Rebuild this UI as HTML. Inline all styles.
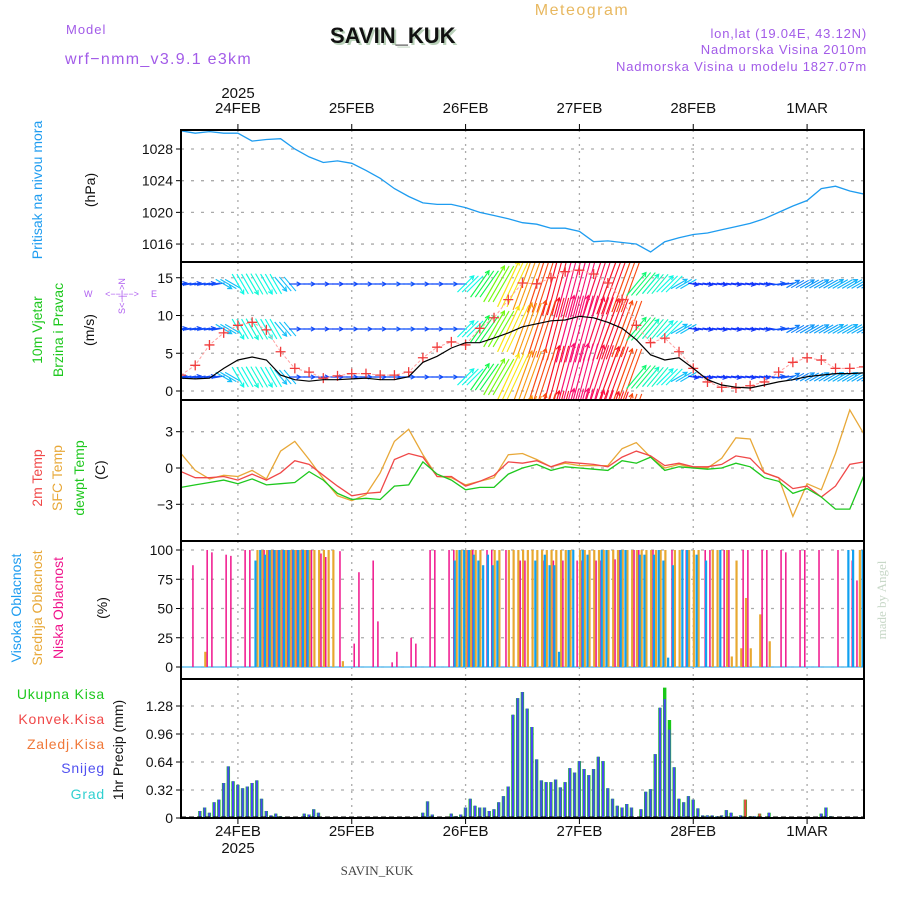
<!DOCTYPE html>
<html><head><meta charset="utf-8"><style>
html,body{margin:0;padding:0;background:#fff;}
svg{display:block;font-family:"Liberation Sans",sans-serif;}
</style></head><body>
<svg id="chart" width="900" height="900" viewBox="0 0 900 900" xmlns="http://www.w3.org/2000/svg">
<text x="582" y="15" fill="#e8b860" font-size="16" letter-spacing="1.5" text-anchor="middle">Meteogram</text>
<text x="66" y="34" fill="#a25be8" font-size="13" letter-spacing="1">Model</text>
<text x="65" y="64" fill="#a25be8" font-size="16" letter-spacing="1.3">wrf−nmm_v3.9.1 e3km</text>
<text x="332" y="45" fill="#b8d0b8" font-size="22" font-weight="bold" font-family="Liberation Sans, sans-serif">SAVIN_KUK</text>
<text x="330" y="43" fill="#111" font-size="22" font-weight="bold" font-family="Liberation Sans, sans-serif">SAVIN_KUK</text>
<text x="867" y="38" fill="#a25be8" font-size="13" letter-spacing="0.8" text-anchor="end">lon,lat (19.04E, 43.12N)</text>
<text x="867" y="54" fill="#a25be8" font-size="13" letter-spacing="0.8" text-anchor="end">Nadmorska Visina 2010m</text>
<text x="867" y="71" fill="#a25be8" font-size="13" letter-spacing="0.8" text-anchor="end">Nadmorska Visina u modelu 1827.07m</text>
<text x="238" y="98" font-size="15" text-anchor="middle" fill="#111">2025</text>
<text x="238" y="853" font-size="15" text-anchor="middle" fill="#111">2025</text>
<text x="377" y="875" font-size="13" text-anchor="middle" fill="#444" font-family="Liberation Serif, serif">SAVIN_KUK</text>
<text x="886" y="600" font-size="13" fill="#c8d8c8" text-anchor="middle" font-family="Liberation Serif, serif" transform="rotate(-90 886 600)">made by Angel</text>
<g font-size="14">
<text x="42" y="190" fill="#1e9cf0" text-anchor="middle" transform="rotate(-90 42 190)">Pritisak na nivou mora</text>
<text x="95" y="190" fill="#111" text-anchor="middle" transform="rotate(-90 95 190)">(hPa)</text>
<text x="42" y="330" fill="#1ec81e" text-anchor="middle" transform="rotate(-90 42 330)">10m Vjetar</text>
<text x="63" y="330" fill="#1ec81e" text-anchor="middle" transform="rotate(-90 63 330)">Brzina i Pravac</text>
<text x="94" y="330" fill="#111" text-anchor="middle" transform="rotate(-90 94 330)">(m/s)</text>
<text x="42" y="478" fill="#f04848" text-anchor="middle" transform="rotate(-90 42 478)">2m Temp</text>
<text x="62" y="478" fill="#e8a838" text-anchor="middle" transform="rotate(-90 62 478)">SFC Temp</text>
<text x="84" y="478" fill="#1ec81e" text-anchor="middle" transform="rotate(-90 84 478)">dewpt Temp</text>
<text x="105" y="470" fill="#111" text-anchor="middle" transform="rotate(-90 105 470)">(C)</text>
<text x="21" y="608" fill="#1e9cf0" text-anchor="middle" transform="rotate(-90 21 608)">Visoka Oblacnost</text>
<text x="42" y="608" fill="#e8a838" text-anchor="middle" transform="rotate(-90 42 608)">Srednja Oblacnost</text>
<text x="63" y="608" fill="#f0148c" text-anchor="middle" transform="rotate(-90 63 608)">Niska Oblacnost</text>
<text x="107" y="608" fill="#111" text-anchor="middle" transform="rotate(-90 107 608)">(%)</text>
<text x="123" y="750" fill="#111" text-anchor="middle" transform="rotate(-90 123 750)">1hr Precip (mm)</text>
</g>
<g font-size="14" text-anchor="end" letter-spacing="0.8">
<text x="105" y="699" fill="#1ec81e">Ukupna Kisa</text>
<text x="105" y="724" fill="#f04848">Konvek.Kisa</text>
<text x="105" y="749" fill="#f07838">Zaledj.Kisa</text>
<text x="105" y="773" fill="#5050f0">Snijeg</text>
<text x="105" y="799" fill="#30d0d0">Grad</text>
</g>
<g fill="#b060f0" font-size="9">
<text x="84" y="297">W</text>
<text x="151" y="297">E</text>
<text x="122" y="297" text-anchor="middle">&lt;−−|−−&gt;</text>
<text x="125" y="296" text-anchor="middle" transform="rotate(-90 125 296)">S&lt;−|−&gt;N</text>
</g>
<g id="plots"></g>
</svg>
<script>
// ---------- data ----------
const dayLabels = ["24FEB","25FEB","26FEB","27FEB","28FEB","1MAR"];
const dayHours = [12,36,60,84,108,132];
const pressTicks = [1016,1020,1024,1028];
const windTicks = [0,5,10,15];
const tempTicks = [-3,0,3];
const cloudTicks = [0,25,50,75,100];
const precipTicks = [0,0.32,0.64,0.96,1.28];
const precipTickLabels = ["0","0.32","0.64","0.96","1.28"];
// 3-hourly series (hour 0 = 23FEB 12Z)
const pressure = [1030.3,1030.0,1030.2,1030.0,1030.0,1029.0,1029.2,1029.3,1028.0,1027.0,1026.3,1026.5,1026.2,1025.3,1024.3,1023.0,1022.0,1021.2,1021.0,1021.0,1020.6,1020.0,1019.6,1019.2,1018.7,1018.5,1018.0,1018.0,1017.6,1016.3,1016.4,1016.2,1016.0,1015.0,1016.3,1016.8,1017.2,1017.4,1017.8,1018.2,1018.6,1019.2,1020.0,1020.8,1021.5,1023.0,1023.3,1022.7,1022.3];
const windSpeed = [1.7,1.6,1.7,3.0,4.1,4.5,4.1,2.1,1.5,1.3,1.5,1.5,1.6,1.7,1.5,1.5,1.9,3.8,4.6,5.7,6.4,6.4,7.0,7.7,8.5,8.9,9.3,9.4,9.9,9.7,9.1,8.3,6.8,4.8,4.1,4.4,3.0,1.5,0.8,0.5,0.4,0.8,1.2,1.5,1.9,2.1,2.3,2.3,2.4];
const windGust = [2.1,3.4,6.1,7.7,8.7,9.1,8.1,5.2,3.0,2.5,1.7,2.0,2.3,2.3,2.1,2.1,2.5,4.4,5.8,6.5,6.1,8.3,9.7,12.1,14.3,14.2,15.0,15.8,16.0,15.5,14.3,12.1,8.7,6.4,7.0,5.2,3.0,1.2,0.5,0.4,0.7,1.2,2.5,3.8,4.4,4.1,3.0,3.0,3.2];
const arrowDir = [80,80,80,120,150,150,150,140,90,90,90,90,90,90,90,90,90,90,90,90,45,35,30,25,20,18,15,15,15,18,20,20,40,40,45,60,100,100,100,100,100,100,80,60,60,60,60,60,60];
const arrowSpd = [2.5,2.5,2.5,4,5,5.2,5,4,2.5,2.5,2.4,2.4,2.5,2.5,2.5,2.6,2.6,2.5,2.5,2.6,5,7,9,11,12,13,14,15,15,14.5,14,13,6.5,5.5,5,4,2.2,2.2,2.2,2.2,2.2,2.3,2.6,3.2,3.5,3.6,3.8,3.8,3.6];
const temp2m = [-0.3,-0.8,-0.8,-0.7,-1.0,-0.5,-1.0,-0.4,0.6,0.3,-0.6,-1.5,-2.3,-2.1,-2.0,0.7,1.2,0.9,-0.7,-0.7,-1.5,-1.1,-0.6,0.5,0.4,0.6,0.1,0.5,0.4,0.3,0.1,0.9,1.4,1.0,0.2,0.4,0.1,0.1,0.3,1.0,0.8,-0.4,-0.8,-1.7,-1.5,-2.4,-1.5,0.3,0.5];
const tempSfc = [1.2,-0.2,-0.9,-0.6,-0.7,-0.2,-0.9,1.4,2.2,0.7,-0.9,-2.3,-2.7,-2.2,-0.4,2.2,3.2,1.1,-0.7,-0.8,-1.4,-1.1,-0.8,1.1,1.2,0.7,0.1,0.4,0.2,0.2,0.2,1.6,2.1,0.9,0.0,0.3,0.0,0.0,0.8,2.5,2.4,-0.4,-0.8,-4.0,-1.3,-1.8,1.2,4.8,2.8];
const tempDew = [-1.6,-1.4,-1.2,-1.0,-1.3,-0.9,-1.4,-1.3,-1.2,-0.3,-1.0,-2.1,-2.6,-2.5,-2.6,-1.5,-1.4,0.5,-0.5,-1.0,-1.8,-1.6,-1.6,-0.5,0.0,0.3,-0.2,0.1,0.0,-0.1,-0.2,0.6,0.4,0.9,-0.2,0.1,0.0,-0.1,0.0,0.4,0.1,-0.8,-1.1,-2.1,-1.7,-2.4,-3.4,-3.4,-0.6];
// hourly cloud cover (%)
const cloudHigh = [0,0,0,0,0,0,0,0,0,0, 0,0,0,0,0,0,91,100,96,100, 100,100,100,100,100,100,100,100,0,0, 0,0,0,0,0,0,0,0,0,0, 0,0,0,0,0,0,0,0,0,0, 0,0,0,0,0,0,0,0,91,100, 100,100,96,91,87,96,87,91,0,0, 0,0,0,0,0,91,0,96,87,87, 13,0,100,100,0,100,96,0,0,100, 100,0,0,100,100,0,0,96,96,0, 96,100,91,8,87,0,100,100,0,96, 0,91,0,0,100,0,0,0,0,0, 0,0,0,0,0,0,0,0,0,0, 0,0,0,0,0,0,0,0,0,0, 0,100,100,0,100];
const cloudMid = [0,0,0,0,0,13,0,0,0,0, 0,0,0,0,0,0,100,100,100,100, 100,100,100,100,100,100,100,100,100,100, 100,100,100,0,5,0,0,0,0,0, 0,0,0,0,0,0,0,0,0,0, 0,0,0,0,0,0,0,0,100,100, 100,100,100,100,0,0,100,100,0,100, 100,100,100,100,100,100,100,100,100,100, 100,100,100,0,100,100,100,100,100,100, 100,100,100,100,100,100,100,100,100,100, 100,100,100,0,100,100,0,100,100,100, 0,0,100,100,0,100,9,91,16,59, 16,0,45,0,22,0,0,0,0,0, 0,0,0,0,0,0,0,0,0,0, 0,0,0,100,0];
const cloudLow = [0,0,87,0,0,100,98,0,0,96, 95,0,0,100,100,0,0,100,100,100, 100,100,100,100,100,100,100,100,0,97, 94,0,0,99,0,0,20,81,0,0, 91,39,0,0,4,13,0,0,25,20, 0,0,100,100,0,0,100,100,0,0, 100,100,0,0,100,100,0,0,100,0, 0,91,91,0,0,0,91,0,91,0, 91,0,0,91,91,0,0,91,91,0, 0,92,100,0,0,100,100,0,0,100, 0,0,0,100,0,0,100,0,0,0, 100,100,0,0,100,100,0,0,100,100, 0,0,100,100,0,0,100,98,0,0, 100,100,0,0,100,0,0,0,100,0, 0,91,74,0,0];
// hourly precipitation (mm)
const precipTotal = [0,0,0,.01,.08,.12,.06,.18,.21,.40, .59,.42,.38,.34,.36,.40,.43,.22,.08,.03, .05,.02,0,0,0,0,.05,.04,.10,.06, .01,0,0,0,0,0,0,0,0,.01, 0,0,0,0,0,0,0,0,0,0, 0,.06,.19,.04,0,0,0,.05,.02,.04, .12,.22,.14,.12,.12,.08,.10,.18,.25,.36, 1.18,1.37,1.44,1.25,1.04,.67,.43,.41,.41,.44, .35,.41,.57,.52,.65,.56,.49,.56,.70,.65, .34,.22,.14,.12,.16,.12,.01,.10,.30,.33, .73,1.26,1.49,1.12,.58,.22,.18,.25,.21,.11, .03,.03,.03,.02,.03,.09,.06,.01,.03,.21, .02,.02,.05,.01,.06,0,0,0,0,0, 0,0,0,0,0,.05,.12,.02,0,0, 0,0,0,0,0];
const precipSnow = [0,0,0,.01,.08,.12,.06,.18,.21,.40, .59,.42,.38,.34,.36,.40,.43,.22,.08,.03, .05,.02,0,0,0,0,.05,.04,.10,.06, .01,0,0,0,0,0,0,0,0,.01, 0,0,0,0,0,0,0,0,0,0, 0,.06,.19,.04,0,0,0,.05,.02,.04, .12,.22,.14,.12,.12,.08,.10,.18,.25,.36, 1.18,1.37,1.44,1.25,1.04,.67,.43,.41,.41,.44, .35,.41,.57,.52,.65,.56,.49,.56,.70,.65, .34,.22,.14,.12,.16,.12,.01,.10,.30,.33, .73,1.26,1.36,1.01,.58,.22,.18,.25,.21,.11, .03,.03,.03,.02,.03,.09,.06,.01,.03,0, .02,.02,0,.01,.06,0,0,0,0,0, 0,0,0,0,0,.05,.12,.02,0,0, 0,0,0,0,0];
const convHours = [119,122];
const convValues = [0.21,0.05];

// ---------- axes ----------
const X0 = 181, X1 = 864, PXH = (X1 - X0) / 144;
const xH = h => X0 + h * PXH;
const yP = p => 149 + (1028 - p) * 7.92;
const yW = s => 391 - s * 7.55;
const yT = t => 468 - t * 12.1;
const yC = c => 667 - c * 1.17;
const yR = r => 818 - r * 87.5;
const panels = [
  {name:"pressure-panel", top:130, bot:262},
  {name:"wind-panel", top:262, bot:400},
  {name:"temperature-panel", top:400, bot:541},
  {name:"cloud-panel", top:541, bot:679},
  {name:"precip-panel", top:679, bot:818}
];
const NS = "http://www.w3.org/2000/svg";
const root = document.getElementById("plots");
function mk(tag, attrs, parent){
  const e = document.createElementNS(NS, tag);
  for (const k in attrs) e.setAttribute(k, attrs[k]);
  (parent || root).appendChild(e);
  return e;
}
function group(name){
  const g = mk("g", {});
  
  
  return g;
}
const clip = mk("defs", {});
panels.forEach((p, i) => {
  const cp = mk("clipPath", {id: "clip" + i}, clip);
  mk("rect", {x: X0, y: p.top, width: X1 - X0, height: p.bot - p.top}, cp);
});

// grid
const grid = group("grid-lines");
panels.forEach(p => {
  dayHours.forEach(h => {
    const l = mk("line", {x1: xH(h), x2: xH(h), y1: p.top, y2: p.bot, stroke: "#aaa", "stroke-width": 1.3, "stroke-dasharray": "2,5"}, grid);
    
    
  });
});
function hGrid(ticks, yf, labels, name){
  const g = group(name);
  ticks.forEach((t, i) => {
    const y = yf(t);
    const l = mk("line", {x1: X0, x2: X1, y1: y, y2: y, stroke: "#aaa", "stroke-width": 1.3, "stroke-dasharray": "3,7"}, g);
    
    
    const tk = mk("line", {x1: X0 - 5, x2: X0, y1: y, y2: y, stroke: "#000", "stroke-width": 1}, g);
    
    
    const tx = mk("text", {x: X0 - 8, y: y + 5, "text-anchor": "end", "font-size": 14, fill: "#111"}, g);
    
    
    tx.textContent = labels ? labels[i] : (t < 0 ? "−" + Math.abs(t) : String(t));
  });
}
hGrid(pressTicks, yP, null, "pressure-y-axis");
hGrid(windTicks, yW, null, "wind-y-axis");
hGrid(tempTicks, yT, null, "temperature-y-axis");
hGrid(cloudTicks, yC, null, "cloud-y-axis");
hGrid(precipTicks, yR, precipTickLabels, "precip-y-axis");

// x labels
const xa = group("x-axis-labels");
dayHours.forEach((h, i) => {
  const t1 = mk("text", {x: xH(h), y: 113, "text-anchor": "middle", "font-size": 15, fill: "#111"}, xa);
  
  
  t1.textContent = dayLabels[i];
  const t2 = mk("text", {x: xH(h), y: 836, "text-anchor": "middle", "font-size": 15, fill: "#111"}, xa);
  
  
  t2.textContent = dayLabels[i];
  const k1 = mk("line", {x1: xH(h), x2: xH(h), y1: 124, y2: 130, stroke: "#000"}, xa);
  
  
  const k2 = mk("line", {x1: xH(h), x2: xH(h), y1: 818, y2: 824, stroke: "#000"}, xa);
  
  
});

function pts(arr, yf, step){ return arr.map((v, i) => xH(i * step).toFixed(1) + "," + yf(v).toFixed(1)).join(" "); }

// pressure
const pg = group("pressure-series");
pg.setAttribute("clip-path", "url(#clip0)");
const pl = mk("polyline", {points: pts(pressure, yP, 3), fill: "none", stroke: "#1e9cf0", "stroke-width": 1.3}, pg);



// wind arrows
const wg = group("wind-arrows");
wg.setAttribute("clip-path", "url(#clip1)");
const rowCenters = [284, 329, 377, 422];
rowCenters.forEach(rc => {
  arrowDir.forEach((d, i) => {
    const s = arrowSpd[i], L = s * 4.6, a = d * Math.PI / 180;
    const dx = Math.sin(a) * L, dy = -Math.cos(a) * L;
    const x = xH(i * 3), x1 = x - dx / 2, y1 = rc - dy / 2, x2 = x + dx / 2, y2 = rc + dy / 2;
    const hue = ((275 - 20 * s) % 360 + 360) % 360;
    const col = "hsl(" + hue + ",95%,52%)";
    const ar = mk("g", {stroke: col, "stroke-width": 1.2, fill: "none"}, wg);
    
    
    mk("line", {x1: x1, y1: y1, x2: x2, y2: y2}, ar);
    const ha = 4.5, ang = Math.atan2(y2 - y1, x2 - x1);
    mk("polyline", {points: (x2 - ha * Math.cos(ang - 0.5)) + "," + (y2 - ha * Math.sin(ang - 0.5)) + " " + x2 + "," + y2 + " " + (x2 - ha * Math.cos(ang + 0.5)) + "," + (y2 - ha * Math.sin(ang + 0.5))}, ar);
    const ar2 = mk("line", {x1: x1 + 4.7, y1: y1, x2: x2 + 4.7, y2: y2, stroke: col, "stroke-width": 1.1}, wg);
    
    
    const ar3 = mk("line", {x1: x1 + 9.4, y1: y1, x2: x2 + 9.4, y2: y2, stroke: col, "stroke-width": 1.1}, wg);
    
    
  });
});
const gl = mk("polyline", {points: pts(windGust, yW, 3), fill: "none", stroke: "#ffa0a0", "stroke-width": 1, "stroke-dasharray": "3,2"}, wg);


windGust.forEach((v, i) => {
  const x = xH(i * 3), y = yW(v);
  const m = mk("path", {d: "M" + (x - 5) + " " + y + "h10M" + x + " " + (y - 5) + "v10", stroke: "#f03c3c", "stroke-width": 1.3}, wg);
  
  
});
const sl = mk("polyline", {points: pts(windSpeed, yW, 3), fill: "none", stroke: "#000", "stroke-width": 1.2}, wg);



// temperature
const tg = group("temperature-series");
tg.setAttribute("clip-path", "url(#clip2)");
[[tempSfc, "#e8a838", "sfc-temp-line"], [temp2m, "#f04848", "temp-2m-line"], [tempDew, "#1ec81e", "dewpoint-line"]].forEach(s => {
  const l = mk("polyline", {points: pts(s[0], yT, 3), fill: "none", stroke: s[1], "stroke-width": 1.3}, tg);
  
  
});

// clouds
const cg = group("cloud-bars");
cg.setAttribute("clip-path", "url(#clip3)");
const cb = mk("line", {x1: X0, x2: X1, y1: 667, y2: 667, stroke: "#66c0f0", "stroke-width": 1.5}, cg);


for (let h = 0; h <= 144; h++){
  const x = xH(h);
  if (cloudMid[h] > 0){
    const r = mk("rect", {x: x - 0.5, y: yC(cloudMid[h]), width: 2.2, height: 667 - yC(cloudMid[h]), fill: "#e8a830"}, cg);
    
    
  }
  if (cloudHigh[h] > 0){
    const r = mk("rect", {x: x - 2.5, y: yC(cloudHigh[h]), width: 2.2, height: 667 - yC(cloudHigh[h]), fill: "#10a0f0"}, cg);
    
    
  }
  if (cloudLow[h] > 0){
    const r = mk("rect", {x: x + 1.7, y: yC(cloudLow[h]), width: 1.5, height: 667 - yC(cloudLow[h]), fill: "#f0148c"}, cg);
    
    
  }
}

// precipitation
const rg = group("precip-bars");
rg.setAttribute("clip-path", "url(#clip4)");
for (let h = 0; h <= 144; h++){
  const x = xH(h);
  if (precipTotal[h] > 0){
    const r = mk("rect", {x: x - 1.8, y: yR(precipTotal[h]), width: 3.4, height: 818 - yR(precipTotal[h]), fill: "#18c818"}, rg);
    
    
  }
  if (precipSnow[h] > 0){
    const r = mk("rect", {x: x - 1.2, y: yR(precipSnow[h]), width: 2.2, height: 818 - yR(precipSnow[h]), fill: "#4848f0"}, rg);
    
    
  }
}
convHours.forEach((h, i) => {
  const r = mk("rect", {x: xH(h) - 1.2, y: yR(convValues[i]), width: 2.2, height: 818 - yR(convValues[i]), fill: "#f04848"}, rg);
  
  
});
const zl = mk("line", {x1: X0, x2: X1, y1: 817, y2: 817, stroke: "#000", "stroke-width": 1, "stroke-dasharray": "5,3"}, rg);



// frames
const fr = group("panel-frames");
panels.forEach(p => {
  const r = mk("rect", {x: X0, y: p.top, width: X1 - X0, height: p.bot - p.top, fill: "none", stroke: "#000", "stroke-width": 2}, fr);
  
  
});
</script>
</body></html>
